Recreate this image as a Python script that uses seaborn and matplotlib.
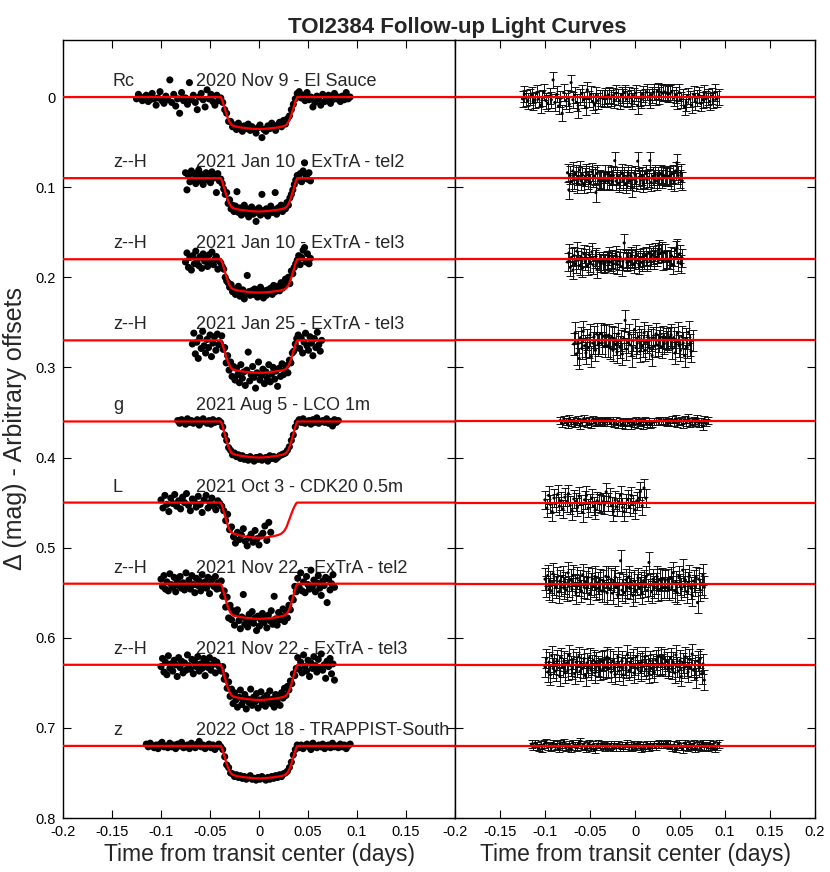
import numpy as np
import pandas as pd
import matplotlib
matplotlib.use("Agg")
import matplotlib.pyplot as plt
import seaborn as sns

sns.set_theme(style="white")
plt.rcParams['font.family'] = ['Liberation Sans', 'DejaVu Sans']

# ---------------- data (times in 1e-3 d, magnitudes in 1e-3 mag) ----------------
offsets = [0.0, 0.09, 0.18, 0.27, 0.36, 0.45, 0.54, 0.63, 0.72]
filters = ["Rc", "z--H", "z--H", "z--H", "g", "L", "z--H", "z--H", "z"]
dates = ["2020 Nov 9 - El Sauce", "2021 Jan 10 - ExTrA - tel2", "2021 Jan 10 - ExTrA - tel3",
         "2021 Jan 25 - ExTrA - tel3", "2021 Aug 5 - LCO 1m", "2021 Oct 3 - CDK20 0.5m",
         "2021 Nov 22 - ExTrA - tel2", "2021 Nov 22 - ExTrA - tel3", "2022 Oct 18 - TRAPPIST-South"]
depths = [35.5, 37, 37, 36, 40, 39, 39, 39, 36]
errors = [9, 10, 10, 12, 4, 10, 12, 11, 4]

# transit model shapes (fraction of depth)
shape_t = [-200, -39, -37.5, -36, -34.5, -33, -31.5, -30, -28.5, -27,
           -24, -20, -15, -10, -5, 0, 5, 10, 15, 20,
           24, 27, 28.5, 30, 31.5, 33, 34.5, 36, 37.5, 39, 200]
shape_v = [0, 0, 0.1, 0.25, 0.4, 0.55, 0.68, 0.78, 0.85, 0.89,
           0.92, 0.945, 0.965, 0.982, 0.995, 1, 0.995, 0.982, 0.965, 0.945,
           0.92, 0.89, 0.85, 0.78, 0.68, 0.55, 0.4, 0.25, 0.1, 0, 0]
shapeL_t = [-200, -39, -37.5, -36, -34.5, -33, -31.5, -30, -28.5, -27,
            -24, -20, -15, -10, -5, 0, 5, 10, 15, 20,
            23, 26, 28, 30, 32, 34, 36, 38, 39, 200]
shapeL_v = [0, 0, 0.1, 0.25, 0.4, 0.55, 0.68, 0.78, 0.84, 0.87,
            0.9, 0.93, 0.96, 0.98, 0.995, 1, 0.995, 0.98, 0.955, 0.92,
            0.88, 0.8, 0.7, 0.55, 0.4, 0.25, 0.12, 0.02, 0, 0]

t_elsauce = [-125, -123, -121, -119, -117, -115, -113, -111, -109, -107,
             -105, -103, -101, -99, -97, -95, -93, -91, -89, -87,
             -85, -83, -81, -79, -77, -75, -73, -71, -69, -67,
             -65, -63, -61, -59, -57, -55, -53, -51, -49, -47,
             -45, -43, -41, -39, -37, -35, -33, -31, -29, -27,
             -25, -23, -21, -19, -17, -15, -13, -11, -9, -7,
             -5, -3, -1, 1, 3, 5, 7, 9, 11, 13,
             15, 17, 19, 21, 23, 25, 27, 29, 31, 33,
             35, 37, 39, 41, 43, 45, 47, 49, 51, 53,
             55, 57, 59, 61, 63, 65, 67, 69, 71, 73,
             75, 77, 79, 81, 83, 85, 87, 89, 91, 93]
m_elsauce = [2, -3, 1, 4, 0, -2, 5, 3, -4, 2,
             9, 1, -6, 4, 7, -1, 3, -19, 6, -3,
             10, 2, 18, -5, 4, 1, 8, -16, 3, -2,
             6, 14, 0, -4, 3, 11, -8, 2, -3, 5,
             9, -2, 4, 1, 6, 14, 18, 27, 27, 33,
             31, 36, 29, 34, 38, 32, 35, 30, 37, 33,
             36, 40, 34, 31, 45, 36, 38, 32, 35, 29,
             34, 37, 31, 28, 33, 26, 30, 24, 21, 14,
             8, 2, -4, -6, 1, -2, 4, -5, 3, 0,
             11, 6, -1, 2, 9, -3, 5, 1, -2, 7,
             3, -4, 2, 0, 5, -1, 3, -5, 2, 0]

t_jan10 = [-75, -73.5, -72, -70.5, -69, -67.5, -66, -64.5, -63, -61.5,
           -60, -58.5, -57, -55.5, -54, -52.5, -51, -49.5, -48, -46.5,
           -45, -43.5, -42, -40.5, -39, -37.5, -36, -34.5, -33, -31.5,
           -30, -28.5, -27, -25.5, -24, -22.5, -21, -19.5, -18, -16.5,
           -15, -13.5, -12, -10.5, -9, -7.5, -6, -4.5, -3, -1.5,
           0, 1.5, 3, 4.5, 6, 7.5, 9, 10.5, 12, 13.5,
           15, 16.5, 18, 19.5, 21, 22.5, 24, 25.5, 27, 28.5,
           30, 31.5, 33, 34.5, 36, 37.5, 39, 40.5, 42, 43.5,
           45, 46.5, 48, 49.5, 51, 52.5]
m_jan10_tel2 = [-6, 13, -3, 4, -8, 2, -5, 6, -2, -9,
                3, -4, 7, -1, -6, 2, -3, 5, -7, 0,
                -2, 16, -5, 3,
                1, 6, 12, 18, 16, 28, 24, 34, 30, 37,
                31, 15, 38, 33, 41, 36, 30, 39, 34, 43,
                37, 32, 40, 35, 48, 38, 33, 41, 18, 36,
                39, 34, 42, 37, 31, 38, 35, 16, 40, 33,
                36, 30, 37, 31, 34, 27, 30, 22, 18, 13,
                7, 2, -3, 2, -5, 4, -8, -17, -3, 1,
                -6, 3]
m_jan10_tel3 = [3, -7, 9, -2, 12, -4, 5, -9, 1, 7,
                -3, 10, -6, 2, -1, 8, -5, 4, -8, 6,
                0, -3, 11, 2,
                4, 8, 11, 20, 24, 26, 31, 28, 36, 33,
                39, 35, 30, 41, 37, 34, 44, 38, 18, 36,
                40, 35, 39, 33, 37, 42, 36, 31, 38, 43,
                35, 40, 34, 37, 32, 39, 29, 36, 33, 30,
                35, 26, 32, 28, 22, 25, 20, 27, 13, 16,
                9, 5, 1, -4, 6, -2, -10, -13, 3, -6,
                5, -1]

t_jan25 = [-68, -66.5, -65, -63.5, -62, -60.5, -59, -57.5, -56, -54.5,
           -53, -51.5, -50, -48.5, -47, -45.5, -44, -42.5, -41, -39.5,
           -38, -36.5, -35, -33.5, -32, -30.5, -29, -27.5, -26, -24.5,
           -23, -21.5, -20, -18.5, -17, -15.5, -14, -12.5, -11, -9.5,
           -8, -6.5, -5, -3.5, -2, -0.5, 1, 2.5, 4, 5.5,
           7, 8.5, 10, 11.5, 13, 14.5, 16, 17.5, 19, 20.5,
           22, 23.5, 25, 26.5, 28, 29.5, 31, 32.5, 34, 35.5,
           37, 38.5, 40, 41.5, 43, 44.5, 46, 47.5, 49, 50.5,
           52, 53.5, 55, 56.5, 58, 59.5, 61, 62.5, 64]
m_jan25 = [4, -8, 15, 2, 20, -3, 9, -10, 6, 14,
           -1, 8, -6, 18, 3, -4, 11, -7, 5,
           3, -5, 10, 8, 25, 17, 33, 24, 40, 29,
           44, 31, 38, 47, 27, 42, 35, 50, 33, 13,
           45, 38, 29, 41, 53, 36, 24, 44, 39, 32,
           48, 35, 42, 27, 46, 37, 30, 43, 34, 51,
           31, 40, 26, 38, 33, 28, 36, 22, 25, 14,
           12, 4, -2,
           -6, 9, -3, 14, 2, -8, 6, 11, -4, 3,
           17, -2, 8, -9, 5, 12, 0]

t_lco = [-83, -81, -79, -77, -75, -73, -71, -69, -67, -65,
         -63, -61, -59, -57, -55, -53, -51, -49, -47, -45,
         -43, -41, -39, -37, -35, -33, -31, -29, -27, -25,
         -23, -21, -19, -17, -15, -13, -11, -9, -7, -5,
         -3, -1, 1, 3, 5, 7, 9, 11, 13, 15,
         17, 19, 21, 23, 25, 27, 29, 31, 33, 35,
         37, 39, 41, 43, 45, 47, 49, 51, 53, 55,
         57, 59, 61, 63, 65, 67, 69, 71, 73, 75,
         77, 79, 81]
m_lco = [-1, 2, -2, 0, 3, -3, 1, -1, 2, 0,
         -2, 4, 1, -3, 0, 2, -1, 3, -2, 1,
         0, -1,
         1, 6, 15, 21, 29, 32, 37, 35, 39, 37,
         41, 38, 42, 40, 43, 39, 41, 44, 40, 42,
         39, 43, 41, 40, 44, 38, 41, 39, 42, 40,
         38, 37, 36, 35, 32, 28, 21, 15, 6, 1,
         -2, 1, -3, 2, 0, -1, 3, -2, 1, -4,
         2, 0, -1, 1, -3, 2, 0, 5, -2, 1, -1]

t_cdk = [-100, -98, -96, -94, -92, -90, -88, -86, -84, -82,
         -80, -78, -76, -74, -72, -70, -68, -66, -64, -62,
         -60, -58, -56, -54, -52, -50, -48, -46, -44, -42,
         -40, -38, -36, -34, -32, -30, -28, -26, -24, -22,
         -20, -18, -16, -14, -12, -10, -8, -6, -4, -2,
         0, 2, 4, 6, 8, 10, 12]
m_cdk = [-3, 6, -8, 2, 10, -5, 1, -9, 4, -2,
         7, -6, 0, -10, 3, 9, -4, -1, 5, -7,
         2, 11, -3, -8, 6, 0, -5, 4, 8, -2,
         1,
         4, 9, 20, 13, 30, 27, 38, 45, 33, 41,
         36, 29, 43, 48, 39, 35, 44, 31, 40, 47,
         37, 34, 26, 42, 22, 33]

t_nov22 = [-100, -98.5, -97, -95.5, -94, -92.5, -91, -89.5, -88, -86.5,
           -85, -83.5, -82, -80.5, -79, -77.5, -76, -74.5, -73, -71.5,
           -70, -68.5, -67, -65.5, -64, -62.5, -61, -59.5, -58, -56.5,
           -55, -53.5, -52, -50.5, -49, -47.5, -46, -44.5, -43, -41.5,
           -40, -38.5, -37, -35.5, -34, -32.5, -31, -29.5, -28, -26.5,
           -25, -23.5, -22, -20.5, -19, -17.5, -16, -14.5, -13, -11.5,
           -10, -8.5, -7, -5.5, -4, -2.5, -1, 0.5, 2, 3.5,
           5, 6.5, 8, 9.5, 11, 12.5, 14, 15.5, 17, 18.5,
           20, 21.5, 23, 24.5, 26, 27.5, 29, 30.5, 32, 33.5,
           35, 36.5, 38, 39.5, 41, 42.5, 44, 45.5, 47, 48.5,
           50, 51.5, 53, 54.5, 56, 57.5, 59, 60.5, 62, 63.5,
           65, 66.5, 68, 69.5, 71, 72.5, 74, 75.5, 77]
m_nov22_tel2 = [-5, 3, -9, 6, -2, 8, -11, 1, 4, -7,
                9, -3, 2, -8, 5, -1, 7, -12, 3, -4,
                6, -9, 1, 10, -6, 2, -3, 8, -10, 4,
                -2, 5, -7, 11, 0, -5, 3, -8, 6, -1,
                5, -3, 14, 8, 26, 15, 38, 24, 40, 30,
                46, 33, 29, 41, 50, 37, 12, 45, 39, 48,
                34, 42, 31, 44, 38, 52, 36, 47, 40, 33,
                43, 38, 49, 35, 41, 30, 45, 14, 39, 46,
                32, 40, 36, 28, 42, 30, 38, 24, 29, 16,
                18, 3, 9,
                -6, 4, -12, 8, -2, 10, -8, 1, 6, -15,
                3, -4, 9, -1, -9, 5, 13, -3, 2, -7,
                21, -5, 7, 0, -10, 4]
m_nov22_tel3 = [2, -7, 8, -3, 11, -10, 4, -1, 7, -5,
                0, 13, -8, 3, -4, 9, -2, 6, -11, 1,
                5, -6, 10, -3, 2, -9, 7, -1, 4, -7,
                12, -2, 3, -8, 6, 0, -5, 9, -3, 1,
                3, 7, 2, 16, 12, 26, 19, 35, 27, 43,
                31, 39, 47, 36, 28, 44, 40, 33, 49, 38,
                42, 27, 45, 36, 41, 32, 48, 39, 30, 44,
                37, 46, 34, 40, 29, 43, 38, 47, 33, 41,
                36, 45, 31, 37, 26, 34, 24, 28, 18, 21,
                10, 12, 4,
                -8, 5, -3, 9, -11, 2, 7, -5, 13, -2,
                4, -9, 1, 8, -6, 3, -12, 6, 0, 15,
                -4, 2, -7, 10, -1, 17]

t_trap = [-115, -113, -111, -109, -107, -105, -103, -101, -99, -97,
          -95, -93, -91, -89, -87, -85, -83, -81, -79, -77,
          -75, -73, -71, -69, -67, -65, -63, -61, -59, -57,
          -55, -53, -51, -49, -47, -45, -43, -41, -39, -37,
          -35, -33, -31, -29, -27, -25, -23, -21, -19, -17,
          -15, -13, -11, -9, -7, -5, -3, -1, 1, 3,
          5, 7, 9, 11, 13, 15, 17, 19, 21, 23,
          25, 27, 29, 31, 33, 35, 37, 39, 41, 43,
          45, 47, 49, 51, 53, 55, 57, 59, 61, 63,
          65, 67, 69, 71, 73, 75, 77, 79, 81, 83,
          85, 87, 89, 91, 93]
m_trap = [-2, 1, -3, 0, 2, -1, 3, -2, -4, 1,
          0, 2, -3, 1, -1, 3, -2, 0, -4, 2,
          1, -1, 3, -3, 0, 2, -2, -5, 1, -1,
          3, 0, -2, 2, -1, 4, 1, -2,
          1, 4, 12, 21, 24, 30, 31, 34, 32, 35,
          33, 36, 34, 37, 35, 33, 37, 36, 38, 35,
          37, 34, 36, 38, 35, 37, 34, 36, 33, 35,
          32, 34, 31, 30, 28, 24, 18, 10, 4, -1,
          2, -1, 3, 0, -2, 1, 4, -3, 0, 2,
          -1, 1, -2, 3, 0, -1, 2, -3, 1, 0,
          2, -2, 1, -1, 3, 0, -2]

times = [t_elsauce, t_jan10, t_jan10, t_jan25, t_lco, t_cdk, t_nov22, t_nov22, t_trap]
mags = [m_elsauce, m_jan10_tel2, m_jan10_tel3, m_jan25, m_lco, m_cdk,
        m_nov22_tel2, m_nov22_tel3, m_trap]

for i, (tt, mm) in enumerate(zip(times, mags)):
    assert len(tt) == len(mm), (i, len(tt), len(mm))

# ---------------- figure ----------------
W, H = 830, 872
fig = plt.figure(figsize=(W / 100, H / 100), dpi=100)
axL = fig.add_axes([63 / W, 1 - 818 / H, (455 - 63) / W, (818 - 40) / H])
axR = fig.add_axes([455 / W, 1 - 818 / H, (815 - 455) / W, (818 - 40) / H])

for i in range(9):
    off = offsets[i]
    t = np.array(times[i], dtype=float) / 1000.0
    m = np.array(mags[i], dtype=float) / 1000.0 + off
    if i == 5:
        st, sv = np.array(shapeL_t) / 1000.0, np.array(shapeL_v)
    else:
        st, sv = np.array(shape_t) / 1000.0, np.array(shape_v)
    mod_curve = off + sv * depths[i] / 1000.0
    resid = m - np.interp(t, st, mod_curve) + off

    dfp = pd.DataFrame({"t": t, "m": m})
    sns.scatterplot(data=dfp, x="t", y="m", ax=axL, color="black", s=26,
                    edgecolor="none", linewidth=0, zorder=3, legend=False)
    dfm = pd.DataFrame({"t": st, "m": mod_curve})
    sns.lineplot(data=dfm, x="t", y="m", ax=axL, color="red", lw=1.6,
                 estimator=None, sort=False, zorder=4, legend=False)

    axL.text(-0.149, off - 0.0122, filters[i], fontsize=13, ha="left",
             va="baseline", zorder=1)
    axL.text(-0.0645, off - 0.0122, dates[i], fontsize=13, ha="left",
             va="baseline", zorder=1)

    axR.errorbar(t, resid, yerr=errors[i] / 1000.0, fmt="none", ecolor="#111111",
                 elinewidth=0.7, capsize=2.6, capthick=0.7, zorder=2)
    dfr = pd.DataFrame({"t": t, "r": resid})
    sns.scatterplot(data=dfr, x="t", y="r", ax=axR, color="black", s=5,
                    edgecolor="none", linewidth=0, zorder=3, legend=False)
    axR.axhline(off, color="red", lw=1.6, zorder=4)

xt = [-0.2, -0.15, -0.1, -0.05, 0, 0.05, 0.1, 0.15, 0.2]
xtl = ["-0.2", "-0.15", "-0.1", "-0.05", "0", "0.05", "0.1", "0.15", "0.2"]
yt = [0, 0.1, 0.2, 0.3, 0.4, 0.5, 0.6, 0.7, 0.8]
ytl = ["0", "0.1", "0.2", "0.3", "0.4", "0.5", "0.6", "0.7", "0.8"]

for ax in (axL, axR):
    ax.set_xlim(-0.2, 0.2)
    ax.set_ylim(0.8, -0.0633)
    ax.set_xticks(xt)
    ax.set_yticks(yt)
    ax.tick_params(direction="in", length=6, width=0.8, top=True, right=True,
                   bottom=True, left=True, pad=5, colors="black")
    for sp in ax.spines.values():
        sp.set_color("black")
        sp.set_linewidth(1.0)
    ax.set_xlabel("Time from transit center (days)", fontsize=16.5, labelpad=3)
    ax.set_ylabel("")
    ax.grid(False)

# the left panel's "0.2" coincides with the right panel's "-0.2"
axL.set_xticklabels(xtl[:-1] + [""], fontsize=10.5)
axR.set_xticklabels(xtl, fontsize=10.5)
axL.set_yticklabels(ytl, fontsize=10.5)
axR.set_yticklabels([])
axL.set_ylabel("Δ (mag) - Arbitrary offsets", fontsize=18, labelpad=6)

fig.text(457 / W, 1 - 28 / H, "TOI2384 Follow-up Light Curves", fontsize=16,
         fontweight="bold", ha="center", va="center")

fig.savefig("out.png", dpi=100)
